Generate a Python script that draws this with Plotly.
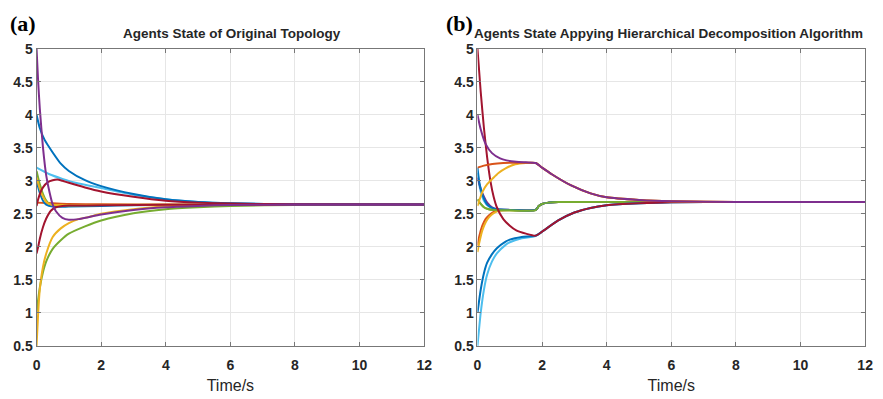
import plotly.graph_objects as go

# ---- colours (MATLAB default order) ----
BLUE = "#0072BD"
ORANGE = "#D95319"
YELLOW = "#EDB120"
PURPLE = "#7E2F8E"
GREEN = "#77AC30"
LIGHTBLUE = "#4DBEEE"
DARKRED = "#A2142F"

# ---- (a) agents state, original topology ----
A_PURPLE_T = [0, 0.05, 0.1, 0.2, 0.3, 0.4, 0.5, 0.6, 0.8, 1.0, 1.3, 1.6, 2, 3, 4, 5, 6, 8, 12]
A_PURPLE_V = [5.0, 4.5, 4.1, 3.5, 3.08, 2.83, 2.64, 2.54, 2.44, 2.41, 2.42, 2.45, 2.49, 2.56, 2.6, 2.62, 2.635, 2.64, 2.64]

A_BLUE_T = [0, 0.1, 0.25, 0.5, 0.75, 1, 1.5, 2, 3, 4, 5, 6, 8, 12]
A_BLUE_V = [4.0, 3.8, 3.62, 3.43, 3.26, 3.15, 3.01, 2.92, 2.8, 2.72, 2.68, 2.66, 2.645, 2.64]

A_LBLUE_T = [0, 0.4, 0.8, 1.2, 1.6, 2, 3, 4, 5, 6, 8, 12]
A_LBLUE_V = [3.2, 3.1, 3.03, 2.97, 2.93, 2.89, 2.79, 2.72, 2.68, 2.66, 2.645, 2.64]

A_RED1_T = [0, 0.05, 0.1, 0.2, 0.35, 0.5, 0.65, 0.8, 1.0, 1.5, 2, 3, 4, 5, 6, 8, 12]
A_RED1_V = [2.62, 2.72, 2.8, 2.9, 2.98, 3.01, 3.02, 3.0, 2.97, 2.9, 2.84, 2.76, 2.7, 2.67, 2.655, 2.645, 2.64]

A_RED2_T = [0, 0.05, 0.1, 0.2, 0.3, 0.45, 0.6, 0.8, 1.0, 2, 4, 12]
A_RED2_V = [1.9, 2.0, 2.12, 2.3, 2.43, 2.55, 2.6, 2.62, 2.625, 2.63, 2.637, 2.64]

A_ORANGE_T = [0, 0.5, 1, 2, 4, 12]
A_ORANGE_V = [2.67, 2.66, 2.65, 2.645, 2.642, 2.64]

A_BLUE2_T = [0, 0.1, 0.2, 0.3, 0.5, 1, 2, 3, 4, 12]
A_BLUE2_V = [3.0, 2.82, 2.7, 2.64, 2.61, 2.61, 2.62, 2.63, 2.635, 2.64]

A_GREEN2_T = [0, 0.1, 0.2, 0.3, 0.4, 0.6, 2, 12]
A_GREEN2_V = [3.15, 2.95, 2.8, 2.7, 2.65, 2.63, 2.635, 2.64]

A_YELLOW2_T = [0, 0.1, 0.2, 0.3, 0.45, 1, 12]
A_YELLOW2_V = [3.05, 2.88, 2.76, 2.68, 2.64, 2.635, 2.64]

A_YELLOW_T = [0, 0.05, 0.1, 0.2, 0.3, 0.5, 0.75, 1.0, 1.3, 1.6, 2, 3, 4, 5, 6, 8, 12]
A_YELLOW_V = [0.5, 1.0, 1.35, 1.7, 1.9, 2.15, 2.28, 2.36, 2.42, 2.45, 2.5, 2.57, 2.61, 2.63, 2.635, 2.64, 2.64]

A_GREEN_T = [0, 0.05, 0.1, 0.2, 0.3, 0.5, 0.75, 1, 1.5, 2, 3, 4, 5, 6, 8, 12]
A_GREEN_V = [1.0, 1.2, 1.38, 1.62, 1.78, 1.97, 2.1, 2.2, 2.31, 2.4, 2.51, 2.57, 2.6, 2.62, 2.635, 2.64]

# ---- (b) agents state with hierarchical decomposition ----
# shared tails after the switch at t = 1.8
B_LOW_TAIL_T = [2.0, 2.5, 3, 3.5, 4, 5, 6, 8, 12]
B_LOW_TAIL_V = [2.23, 2.4, 2.52, 2.59, 2.63, 2.66, 2.675, 2.68, 2.68]
B_MID_TAIL_T = [1.9, 2.0, 2.2, 2.5, 4, 12]
B_MID_TAIL_V = [2.62, 2.65, 2.67, 2.68, 2.68, 2.68]
B_HIGH_TAIL_T = [2.0, 2.3, 2.9, 3.5, 4, 5, 6, 8, 12]
B_HIGH_TAIL_V = [3.2, 3.1, 2.93, 2.81, 2.75, 2.71, 2.69, 2.68, 2.68]

B_RED_T = [0, 0.1, 0.2, 0.3, 0.4, 0.5, 0.6, 0.8, 1.0, 1.2, 1.5, 1.8]
B_RED_V = [5.0, 4.35, 3.8, 3.35, 3.0, 2.76, 2.6, 2.42, 2.32, 2.25, 2.2, 2.17]

B_BLUE_T = [0, 0.1, 0.2, 0.3, 0.45, 0.6, 0.87, 1.0, 1.37, 1.8]
B_BLUE_V = [1.0, 1.35, 1.6, 1.76, 1.89, 1.98, 2.08, 2.11, 2.15, 2.17]

B_LBLUE_T = [0, 0.1, 0.2, 0.3, 0.45, 0.6, 0.87, 1.0, 1.37, 1.8]
B_LBLUE_V = [0.5, 1.0, 1.35, 1.58, 1.78, 1.9, 2.03, 2.07, 2.13, 2.165]

B_PURPLE_T = [0, 0.1, 0.25, 0.45, 0.7, 0.9, 1.2, 1.5, 1.8]
B_PURPLE_V = [4.0, 3.78, 3.56, 3.42, 3.34, 3.31, 3.29, 3.28, 3.27]

B_ORANGE_HI_T = [0, 0.2, 0.46, 0.8, 1.2, 1.5, 1.8]
B_ORANGE_HI_V = [3.2, 3.23, 3.255, 3.27, 3.275, 3.275, 3.27]

B_YELLOW_HI_T = [0, 0.15, 0.3, 0.46, 0.65, 0.87, 1.17, 1.5, 1.8]
B_YELLOW_HI_V = [2.62, 2.83, 2.95, 3.03, 3.12, 3.19, 3.25, 3.27, 3.27]

B_GREEN_T = [0, 0.1, 0.2, 0.35, 0.5, 1.0, 1.8]
B_GREEN_V = [2.72, 2.65, 2.6, 2.57, 2.56, 2.555, 2.555]

B_ORANGE_LO_T = [0, 0.05, 0.15, 0.25, 0.36, 0.5, 0.65, 1.0, 1.8]
B_ORANGE_LO_V = [2.02, 2.15, 2.32, 2.42, 2.48, 2.53, 2.555, 2.56, 2.56]

B_YELLOW_LO_T = [0, 0.05, 0.15, 0.25, 0.36, 0.5, 0.65, 0.8, 1.8]
B_YELLOW_LO_V = [1.92, 2.05, 2.25, 2.37, 2.45, 2.51, 2.545, 2.555, 2.56]

B_BLUE_HI_T = [0, 0.05, 0.1, 0.2, 0.3, 0.45, 0.6, 1.0, 1.8]
B_BLUE_HI_V = [3.2, 3.0, 2.88, 2.73, 2.64, 2.59, 2.57, 2.56, 2.56]

B_PURPLE_LO_T = [0, 0.1, 0.2, 0.3, 0.45, 0.6, 1.0, 1.8]
B_PURPLE_LO_V = [3.05, 2.88, 2.76, 2.67, 2.6, 2.57, 2.56, 2.56]

B_LBLUE_HI_T = [0, 0.05, 0.1, 0.2, 0.35, 0.5, 1.0, 1.8]
B_LBLUE_HI_V = [3.12, 2.95, 2.84, 2.7, 2.61, 2.575, 2.56, 2.56]

X_TICKS = [0, 2, 4, 6, 8, 10, 12]
Y_TICKS = [0.5, 1, 1.5, 2, 2.5, 3, 3.5, 4, 4.5, 5]
Y_TICK_TEXT = ["0.5", "1", "1.5", "2", "2.5", "3", "3.5", "4", "4.5", "5"]

TITLE_A = "Agents State of Original Topology"
TITLE_B = "Agents State Appying Hierarchical Decomposition Algorithm"
X_LABEL = "Time/s"

fig = go.Figure()


def add_curve(t, v, color, axis):
    fig.add_trace(go.Scatter(
        x=t, y=v, mode="lines",
        line=dict(color=color, width=2, shape="spline", smoothing=0.6),
        xaxis="x" if axis == 1 else "x2",
        yaxis="y" if axis == 1 else "y2",
        showlegend=False, hoverinfo="skip",
    ))


# panel (a)
for t, v, c in [
    (A_ORANGE_T, A_ORANGE_V, ORANGE),
    (A_BLUE2_T, A_BLUE2_V, BLUE),
    (A_GREEN2_T, A_GREEN2_V, GREEN),
    (A_YELLOW2_T, A_YELLOW2_V, YELLOW),
    (A_GREEN_T, A_GREEN_V, GREEN),
    (A_YELLOW_T, A_YELLOW_V, YELLOW),
    (A_RED2_T, A_RED2_V, DARKRED),
    (A_LBLUE_T, A_LBLUE_V, LIGHTBLUE),
    (A_BLUE_T, A_BLUE_V, BLUE),
    (A_RED1_T, A_RED1_V, DARKRED),
    (A_PURPLE_T, A_PURPLE_V, PURPLE),
]:
    add_curve(t, v, c, 1)

# panel (b)
for t, v, c, tail_t, tail_v in [
    (B_GREEN_T, B_GREEN_V, GREEN, B_MID_TAIL_T, B_MID_TAIL_V),
    (B_ORANGE_LO_T, B_ORANGE_LO_V, ORANGE, B_MID_TAIL_T, B_MID_TAIL_V),
    (B_YELLOW_LO_T, B_YELLOW_LO_V, YELLOW, B_MID_TAIL_T, B_MID_TAIL_V),
    (B_LBLUE_HI_T, B_LBLUE_HI_V, LIGHTBLUE, B_MID_TAIL_T, B_MID_TAIL_V),
    (B_PURPLE_LO_T, B_PURPLE_LO_V, PURPLE, B_MID_TAIL_T, B_MID_TAIL_V),
    (B_BLUE_HI_T, B_BLUE_HI_V, BLUE, B_MID_TAIL_T, B_MID_TAIL_V),
    (B_GREEN_T, B_GREEN_V, GREEN, B_MID_TAIL_T, B_MID_TAIL_V),
    (B_LBLUE_T, B_LBLUE_V, LIGHTBLUE, B_LOW_TAIL_T, B_LOW_TAIL_V),
    (B_BLUE_T, B_BLUE_V, BLUE, B_LOW_TAIL_T, B_LOW_TAIL_V),
    (B_RED_T, B_RED_V, DARKRED, B_LOW_TAIL_T, B_LOW_TAIL_V),
    (B_YELLOW_HI_T, B_YELLOW_HI_V, YELLOW, B_HIGH_TAIL_T, B_HIGH_TAIL_V),
    (B_ORANGE_HI_T, B_ORANGE_HI_V, ORANGE, B_HIGH_TAIL_T, B_HIGH_TAIL_V),
    (B_PURPLE_T, B_PURPLE_V, PURPLE, B_HIGH_TAIL_T, B_HIGH_TAIL_V),
]:
    add_curve(list(t) + list(tail_t), list(v) + list(tail_v), c, 2)

W, H = 883, 399
tick_font = dict(family="Liberation Sans, Arial, sans-serif", size=14, color="#262626", weight="bold")
label_font = dict(family="Liberation Sans, Arial, sans-serif", size=16, color="#262626")


def xaxis(domain, anchor):
    return dict(
        domain=domain, anchor=anchor, range=[0, 12], tickvals=X_TICKS,
        showgrid=True, gridcolor="#e6e6e6", gridwidth=1,
        showline=True, linecolor="#777777", linewidth=1, mirror="ticks",
        ticks="inside", ticklen=4, tickcolor="#777777",
        tickfont=tick_font, zeroline=False, ticklabelstandoff=6,
        title=dict(text=X_LABEL, font=label_font, standoff=8),
    )


def yaxis(domain, anchor):
    return dict(
        domain=domain, anchor=anchor, range=[0.5, 5], tickvals=Y_TICKS, ticktext=Y_TICK_TEXT,
        showgrid=True, gridcolor="#e6e6e6", gridwidth=1,
        showline=True, linecolor="#777777", linewidth=1, mirror="ticks",
        ticks="inside", ticklen=4, tickcolor="#777777",
        tickfont=tick_font, zeroline=False,
    )


y_dom = [(H - 352) / H, (H - 42.5) / H]
fig.update_layout(
    width=W, height=H,
    margin=dict(l=0, r=0, t=0, b=0),
    paper_bgcolor="white", plot_bgcolor="white",
    xaxis=xaxis([33 / W, 426 / W], "y"),
    yaxis=yaxis(y_dom, "x"),
    xaxis2=xaxis([480 / W, 873 / W], "y2"),
    yaxis2=yaxis(y_dom, "x2"),
    annotations=[
        dict(text="(a)", x=4 / W, y=1 - 16 / H, xref="paper", yref="paper",
             xanchor="left", yanchor="middle", showarrow=False,
             font=dict(family="Liberation Serif, Times New Roman, serif", size=22, color="black", weight="bold")),
        dict(text="(b)", x=446 / W, y=1 - 16 / H, xref="paper", yref="paper",
             xanchor="left", yanchor="middle", showarrow=False,
             font=dict(family="Liberation Serif, Times New Roman, serif", size=22, color="black", weight="bold")),
        dict(text=TITLE_A, x=231 / W, y=1 - 27 / H, xref="paper", yref="paper",
             xanchor="center", yanchor="middle", showarrow=False,
             font=dict(family="Liberation Sans, Arial, sans-serif", size=13.5, color="#262626", weight="bold")),
        dict(text=TITLE_B, x=674 / W, y=1 - 27 / H, xref="paper", yref="paper",
             xanchor="center", yanchor="middle", showarrow=False,
             font=dict(family="Liberation Sans, Arial, sans-serif", size=13.5, color="#262626", weight="bold")),
    ],
)

fig.write_html("out.html")
